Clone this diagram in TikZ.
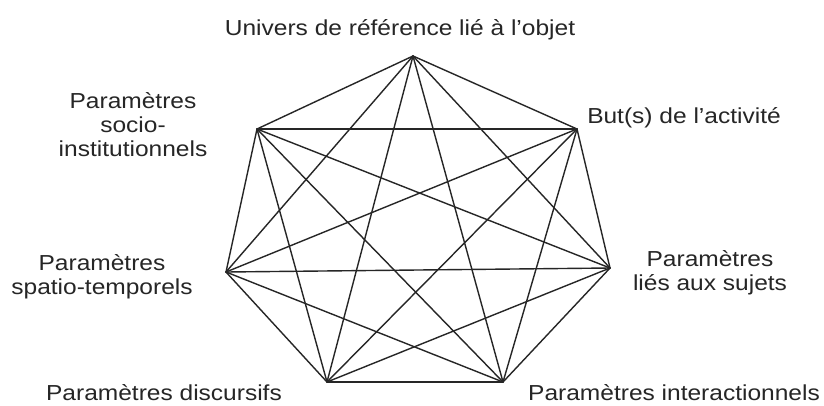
\documentclass[tikz,border=0pt]{standalone}
\usepackage{fontspec}
\setmainfont{Liberation Sans}
\newcommand{\lab}[1]{\scalebox{1.13}[1]{\begin{tabular}[t]{@{}c@{}}#1\end{tabular}}}
\tikzset{
  edge/.style={line width=1.4pt, draw=black!85, line cap=round, line join=round},
  lbl/.style={inner sep=0pt, anchor=base, text=black!85, font=\fontsize{21.7}{24}\selectfont}
}
\begin{document}
\begin{tikzpicture}[x=1pt,y=-1pt]
\useasboundingbox (0,0) rectangle (824,405);
\fill[white] (0,0) rectangle (824,405);
% vertices
\coordinate (A) at (413,56);
\coordinate (B) at (577,129);
\coordinate (C) at (610,268);
\coordinate (D) at (503,382);
\coordinate (E) at (327,382);
\coordinate (F) at (226,272);
\coordinate (G) at (257,129);
% all connections
\foreach \p/\q in {A/B,A/C,A/D,A/E,A/F,A/G,B/C,B/D,B/E,B/F,B/G,C/D,C/E,C/F,C/G,D/E,D/F,D/G,E/F,E/G,F/G}
  \draw[edge] (\p) -- (\q);
% labels
\node[lbl] (tA) at (400,35) {\lab{Univers de référence lié à l'objet}};
\node[lbl] (tB) at (684,123) {\lab{But(s) de l'activité}};
\node[lbl] (tG) at (133,108) {\lab{Paramètres\\socio-\\institutionnels}};
\node[lbl] (tF) at (102,270) {\lab{Paramètres\\spatio-temporels}};
\node[lbl] (tC) at (710,266) {\lab{Paramètres\\liés aux sujets}};
\node[lbl] (tE) at (164,400) {\lab{Paramètres discursifs}};
\node[lbl] (tD) at (674,400) {\lab{Paramètres interactionnels}};
\end{tikzpicture}
\end{document}
